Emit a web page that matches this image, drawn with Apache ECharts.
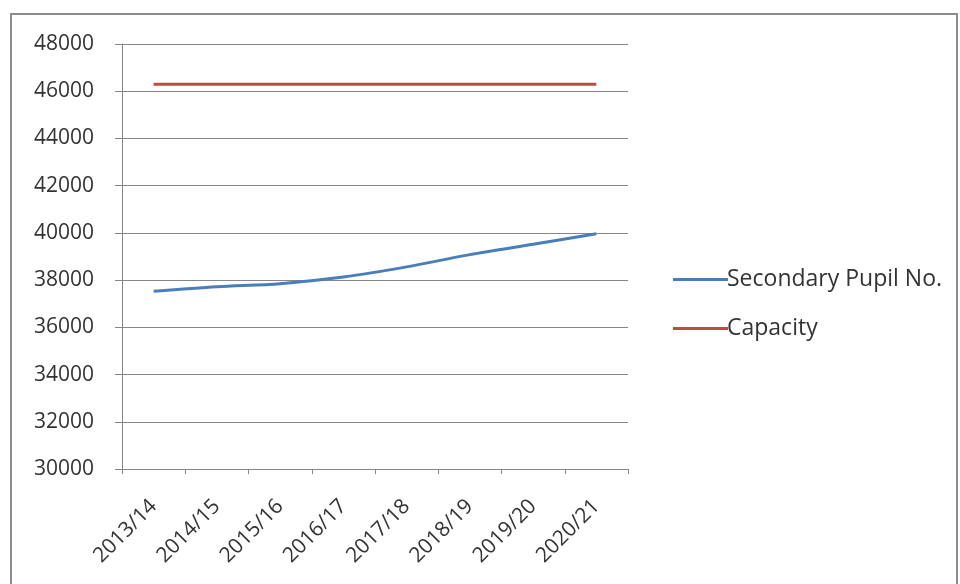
<!DOCTYPE html>
<html><head><meta charset="utf-8">
<script src="https://cdn.jsdelivr.net/npm/echarts@6/dist/echarts.min.js"></script>
<style>html,body{margin:0;padding:0;background:#fff}#c{width:960px;height:584px}</style>
</head><body><div id="c"></div>
<script>
var categories = ['2013/14','2014/15','2015/16','2016/17','2017/18','2018/19','2019/20','2020/21'];
var pupils = [37530, 37720, 37850, 38130, 38560, 39080, 39520, 39960];
var capacity = [46300, 46300, 46300, 46300, 46300, 46300, 46300, 46300];
var yTicks = {min: 30000, max: 48000, interval: 2000};

var chart = echarts.init(document.getElementById('c'), null, {renderer: 'canvas'});
var font = "'Open Sans', 'Noto Sans', sans-serif";
chart.setOption({
  animation: false,
  backgroundColor: '#fff',
  graphic: [{type: 'rect', shape: {x: 11, y: 14, width: 946, height: 600}, style: {fill: 'none', stroke: '#8c8c8c', lineWidth: 2}, silent: true}],
  grid: {left: 122, top: 44, right: 332, bottom: 115, containLabel: false},
  legend: {
    orient: 'vertical', left: 668, top: 263, itemWidth: 55, itemHeight: 3, itemGap: 26,
    icon: 'rect',
    textStyle: {fontFamily: font, fontSize: 23, color: '#333', padding: [0,0,0,-6]},
    data: ['Secondary Pupil No.', 'Capacity']
  },
  xAxis: {
    type: 'category', data: categories, boundaryGap: true,
    axisLine: {lineStyle: {color: '#868686', width: 1}},
    axisTick: {show: true, length: 5, alignWithLabel: false, lineStyle: {color: '#868686'}},
    axisLabel: {rotate: 45, fontFamily: font, fontSize: 21, color: '#333', margin: 34, interval: 0}
  },
  yAxis: {
    type: 'value', min: yTicks.min, max: yTicks.max, interval: yTicks.interval,
    axisLine: {show: true, lineStyle: {color: '#868686', width: 1}},
    axisTick: {show: true, length: 7, lineStyle: {color: '#868686'}},
    axisLabel: {fontFamily: font, fontSize: 21, color: '#333', margin: 28,
      formatter: function (v) { return String(v); }},
    splitLine: {show: true, lineStyle: {color: '#868686', width: 1}}
  },
  series: [
    {name: 'Secondary Pupil No.', type: 'line', data: pupils, smooth: 0.3, showSymbol: false, symbol: 'none',
     lineStyle: {color: '#4A7EBB', width: 3}, itemStyle: {color: '#4A7EBB'}},
    {name: 'Capacity', type: 'line', data: capacity, showSymbol: false, symbol: 'none',
     lineStyle: {color: '#BE4B48', width: 3}, itemStyle: {color: '#BE4B48'}}
  ]
});
</script></body></html>
